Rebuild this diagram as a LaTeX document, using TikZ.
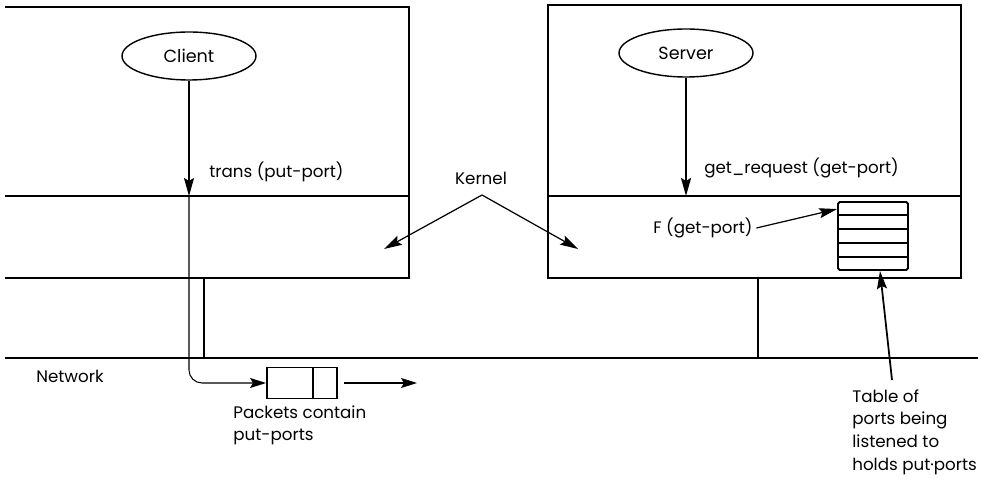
\documentclass[tikz,border=0pt]{standalone}
\usepackage{fontspec}
\setmainfont{Poppins}
\usetikzlibrary{positioning, calc, arrows.meta, shapes.geometric}

\tikzset{
  box/.style={line width=1.1pt},
  proc/.style={draw, ellipse, line width=0.8pt, minimum width=2.68cm, minimum height=0.96cm, inner sep=0pt},
  lbl/.style={font=\fontsize{9.5}{13}\selectfont, inner sep=0pt},
  arr/.style={-{Stealth[length=0.36cm, width=0.2cm, inset=0.06cm]}, line width=0.7pt},
  arrsmall/.style={-{Stealth[length=0.32cm, width=0.2cm, inset=0.06cm]}, line width=0.7pt}
}

\begin{document}
\begin{tikzpicture}[x=0.02cm, y=-0.02cm]
    \useasboundingbox (0,0) rectangle (999,479);

    % Client machine (cut off at the left)
    \draw[box] (5,7) -- (409,7) -- (409,278) -- (5,278);
    \draw[box] (5,196) -- (409,196);

    % Server machine
    \draw[box] (548,5) rectangle (961,278);
    \draw[box] (548,196) -- (961,196);

    % Network
    \draw[box] (5,358) -- (978,358);
    \draw[line width=1pt] (204,278) -- (204,358);
    \draw[line width=1pt] (758,278) -- (758,358);
    \node[lbl] (netlbl) at (70,376) {Network};

    % Processes
    \node[proc] (client) at (189,56) {Client};
    \node[proc] (server) at (686,53) {Server};

    % Calls into the kernel
    \coordinate (transin) at (client.south |- 0,196);
    \draw[arr, line width=0.6pt] (client.south) -- (transin);
    \node[lbl, anchor=west] (trans) at (209,172) {trans (put-port)};
    \coordinate (getin) at (server.south |- 0,196);
    \draw[arr, line width=1.2pt] (server.south) -- (getin);
    \node[lbl, anchor=west] (getreq) at (704,168) {get\_request (get-port)};

    % Kernel
    \node[lbl] (kernel) at (481,178) {Kernel};
    \coordinate (kapex) at (482,195);
    \coordinate (kleft) at (384,249);
    \coordinate (kright) at (578,249);
    \draw[arr] (kapex) -- (kleft);
    \draw[arr] (kapex) -- (kright);

    % Port table
    \node[draw, line width=1.1pt, rounded corners=1pt, minimum width=1.4cm, minimum height=1.36cm] (table) at (873,236) {};
    \foreach \k in {1,...,4}
        \draw[line width=0.9pt] ($(table.north west)!\k/5!(table.south west)$) -- ($(table.north east)!\k/5!(table.south east)$);
    \node[lbl, anchor=west] (fport) at (653,228) {F (get-port)};
    \draw[arr] ([xshift=2pt]fport.east) -- ([yshift=-0.16cm]table.north west);
    \node[lbl, anchor=north west, align=left] (tablelbl) at (852,389) {Table of\\ports being\\listened to\\holds put·ports};
    \coordinate (tblfoot) at (892,380);
    \draw[arr, line width=1pt] (tblfoot) -- ([xshift=0.14cm]table.south);

    % Packet on the wire
    \node[draw, line width=1.1pt, minimum width=1.4cm, minimum height=0.62cm] (packet) at (302,383) {};
    \draw[line width=0.8pt] ([xshift=0.22cm]packet.north) -- ([xshift=0.22cm]packet.south);
    \draw[arrsmall, line width=0.6pt, rounded corners=0.26cm] (transin) |- (packet.west);
    \coordinate (pktout) at (417,383);
    \draw[arrsmall, line width=0.6pt] ([xshift=0.12cm]packet.east) -- (pktout);
    \node[lbl, anchor=north west, align=left] (pktlbl) at (233,405) {Packets contain\\put-ports};
\end{tikzpicture}
\end{document}
